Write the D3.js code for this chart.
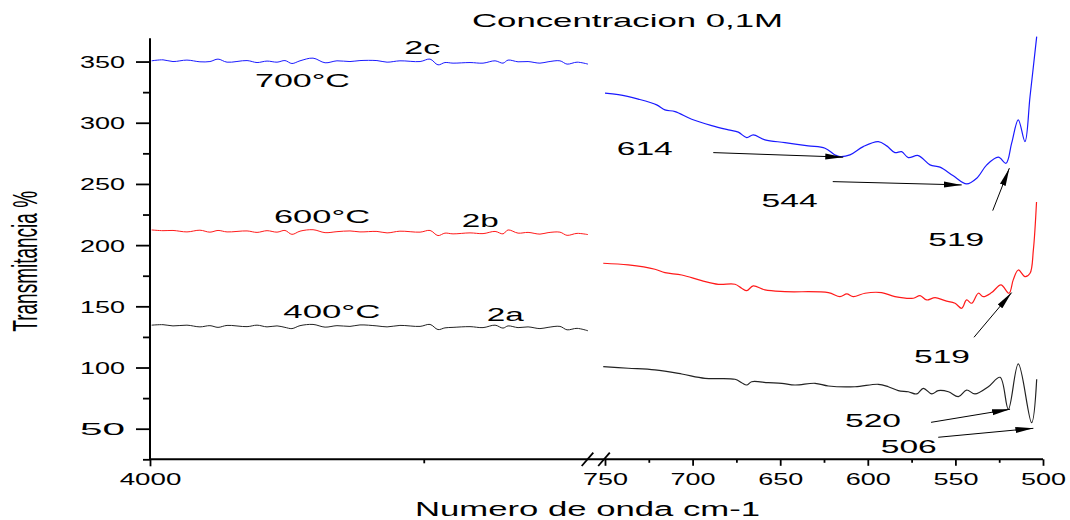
<!DOCTYPE html>
<meta charset="utf-8">
<style>
  body { margin: 0; background: #fff; }
  svg { display: block; }
  text { font-family: "Liberation Sans", Arial, sans-serif; fill: #000; }
  .axis path.domain { display: none; }
  .axis line { stroke: #000; stroke-width: 1.8; }
</style>
<body>
<div id="chart"></div>
<script src="https://cdn.jsdelivr.net/npm/d3@7"></script>
<script>

// tick values
var yTicks = [50, 100, 150, 200, 250, 300, 350];
var yMinor = [25, 75, 125, 175, 225, 275, 325];
var xLeftTicks = [4000];
var xLeftMinor = [2000];
var xRightTicks = [750, 700, 650, 600, 550, 500];
var xRightMinor = [725, 675, 625, 575, 525];

// 4000 - 800 cm-1 part (before the break)
var leftBlue = [[3988,350.6],[3905,351.4],[3832,350.0],[3730,351.2],[3635,349.8],[3562,350.0],[3503,352.0],[3437,349.5],[3291,350.8],[3218,349.2],[3145,350.4],[3072,349.5],[3014,350.8],[2963,348.4],[2904,350.6],[2809,352.8],[2721,349.0],[2634,350.6],[2539,350.0],[2466,350.8],[2342,350.8],[2268,349.5],[2174,350.6],[2027,350.0],[1954,352.0],[1896,347.3],[1845,349.2],[1786,348.7],[1662,349.2],[1567,348.7],[1479,350.6],[1421,348.7],[1384,351.2],[1311,349.8],[1238,350.0],[1151,348.7],[1092,349.8],[1005,350.6],[953,347.9],[880,349.5],[800,347.9]];
var leftRed = [[3988,212.4],[3905,211.8],[3832,212.0],[3730,210.8],[3635,212.2],[3562,210.6],[3503,212.0],[3437,210.8],[3291,211.6],[3218,210.4],[3145,211.8],[3072,210.6],[3014,212.0],[2963,208.8],[2904,211.4],[2809,212.6],[2721,210.2],[2634,211.0],[2539,211.6],[2466,210.8],[2342,211.2],[2268,210.0],[2174,211.4],[2027,210.6],[1954,212.0],[1896,207.8],[1845,209.8],[1786,209.2],[1662,210.0],[1567,209.4],[1479,211.2],[1421,209.2],[1384,212.4],[1311,209.8],[1238,210.4],[1151,209.0],[1092,210.2],[1005,210.6],[953,208.0],[880,209.6],[800,208.6]];
var leftBlack = [[3988,134.6],[3905,135.0],[3832,134.0],[3730,134.6],[3635,133.2],[3562,134.2],[3503,132.8],[3437,134.4],[3291,133.4],[3218,134.6],[3145,133.2],[3072,134.0],[3014,132.8],[2963,131.8],[2904,134.2],[2809,135.2],[2721,133.0],[2634,134.2],[2539,133.6],[2466,134.8],[2342,134.0],[2268,133.2],[2174,134.4],[2027,133.6],[1954,135.2],[1896,131.0],[1845,132.4],[1786,132.8],[1662,133.4],[1567,132.6],[1479,134.6],[1421,132.2],[1384,134.0],[1311,132.6],[1238,133.2],[1151,131.8],[1092,132.8],[1005,133.6],[953,130.8],[880,132.0],[800,130.0]];

// 750 - 500 cm-1 part (after the break)
var rightBlue = [[750,324.2],[742.4,323.0],[731,319.3],[720.5,314.6],[715.8,310.5],[710,309.1],[700.5,302.9],[689.1,297.7],[679.6,294.2],[673.9,292.3],[669.1,287.9],[665.4,290.1],[658.7,286.0],[647.3,283.8],[634,281.1],[624.4,279.2],[618.7,273.7],[615.9,272.3],[610.2,273.7],[602.6,280.5],[594,284.6],[589.2,281.1],[584.5,275.6],[580.7,276.4],[576.9,271.5],[571.2,273.2],[564.5,265.6],[558.8,263.7],[551.2,256.6],[543.6,250.0],[537.8,254.7],[532.1,265.6],[525.5,271.9],[521.1,266.9],[517.9,283.3],[514.1,302.4],[510.3,284.6],[507.4,321.4],[503.6,370.4]];
var rightRed = [[751,185.2],[736.7,183.8],[721.5,180.3],[715.8,177.5],[706.2,175.6],[694.8,171.0],[685.3,168.0],[675.8,168.0],[672,164.8],[669.1,162.8],[665.4,166.7],[658.7,163.4],[647.3,162.0],[622.5,161.2],[615.9,157.9],[612,160.1],[608.3,157.9],[601.6,160.7],[592.1,161.2],[584.5,157.9],[574,156.6],[570.2,158.7],[566.4,155.2],[561.6,157.1],[555.9,154.6],[550.2,152.5],[546.4,148.4],[543.6,155.2],[540.7,152.5],[536.9,160.7],[534.1,157.9],[529.3,161.2],[524,167.5],[519.4,160.7],[517,171.6],[514.1,179.7],[510.3,174.3],[507.4,177.0],[505.5,196.1],[503.7,235.3]];
var rightBlack = [[751,100.7],[736.7,99.4],[721.5,98.0],[706.2,94.7],[692.9,91.2],[675.8,90.4],[672,87.6],[669.1,85.7],[666.3,88.4],[656.8,87.6],[649.1,87.1],[641.6,85.7],[630.1,87.1],[622.5,84.9],[607.3,84.3],[594,86.3],[588.3,84.3],[582.6,81.1],[576.9,80.2],[572.1,78.4],[568.3,83.0],[563.5,78.4],[559.8,81.1],[554,80.2],[548.3,76.2],[543.6,81.6],[538.8,78.4],[531.2,84.3],[524.5,92.0],[519.8,65.9],[514.1,102.9],[506.5,54.9],[503.6,90.4]];

// peak labels and arrows (data coords: [x, y])
var peakLabels = ["614", "544", "519", "519", "520", "506"];
var peakTextAt = [[743.3,273.7],[660.6,231.5],[565.5,199.4],[573.6,103.5],[613.0,51.1],[592.6,29.9]];
var arrowFrom = [[688.2,275.6],[620.0,251.9],[528.7,228.2],[539.4,124.7],[563.9,55.2],[559.8,43.0]];
var arrowTo = [[614.0,271.9],[546.4,249.2],[519.2,262.9],[517.9,161.2],[518.8,65.9],[505.5,50.3]];

// curve labels on the left part
var curveLabels = ["2c", "700°C", "600°C", "2b", "400°C", "2a"];
var curveTextAt = [[2142,356.1],[3233,329.6],[3094,218.4],[1723,215.1],[3026,140.2],[1540,138.0]];

var width = 1070,
    height = 520;

var xL = d3.scaleLinear().domain([4000, 800]).range([150, 588]);
var xR = d3.scaleLinear().domain([750, 500]).range([605, 1043]);
var y = d3.scaleLinear().domain([25, 369]).range([459.3, 38.3]);

var svg = d3.select("#chart").append("svg")
    .attr("width", width)
    .attr("height", height);

svg.append("rect").attr("width", width).attr("height", height).attr("fill", "#fff");

var defs = svg.append("defs");
defs.append("marker")
    .attr("id", "head")
    .attr("markerUnits", "userSpaceOnUse")
    .attr("viewBox", "-18 -4 19 8")
    .attr("refX", 0).attr("refY", 0)
    .attr("markerWidth", 19).attr("markerHeight", 8)
    .attr("orient", "auto")
  .append("path")
    .attr("d", "M0,0L-18,-3L-18,3Z")
    .attr("fill", "#000");

function stretch(sel, w) {
  // the source picture is stretched sideways, so fit each label to its width
  sel.attr("textLength", w).attr("lengthAdjust", "spacingAndGlyphs");
}

var y0 = y(25);
var fmt = d3.format("d");

// y axis: major and minor in their own groups
var gy = svg.append("g").attr("class", "axis").attr("transform", "translate(150,0)")
    .call(d3.axisLeft(y).tickValues(yTicks).tickFormat(fmt).tickSize(14).tickPadding(11).tickSizeOuter(0));
svg.append("g").attr("class", "axis").attr("transform", "translate(150,0)")
    .call(d3.axisLeft(y).tickValues(yMinor).tickSize(7).tickFormat("").tickSizeOuter(0));
gy.selectAll("text")
    .attr("font-size", 16.5)
    .attr("dy", "0.36em")
    .call(stretch, 45);

// x axis, two pieces
var gxL = svg.append("g").attr("class", "axis").attr("transform", "translate(0," + y0 + ")")
    .call(d3.axisBottom(xL).tickValues(xLeftTicks).tickFormat(fmt).tickSize(7).tickSizeOuter(0));
svg.append("g").attr("class", "axis").attr("transform", "translate(0," + y0 + ")")
    .call(d3.axisBottom(xL).tickValues(xLeftMinor).tickSize(4).tickFormat("").tickSizeOuter(0));
var gxR = svg.append("g").attr("class", "axis").attr("transform", "translate(0," + y0 + ")")
    .call(d3.axisBottom(xR).tickValues(xRightTicks).tickFormat(fmt).tickSize(6.5).tickSizeOuter(0));
svg.append("g").attr("class", "axis").attr("transform", "translate(0," + y0 + ")")
    .call(d3.axisBottom(xR).tickValues(xRightMinor).tickSize(3.5).tickFormat("").tickSizeOuter(0));

[gxL, gxR].forEach(function(g) {
  g.selectAll("text")
      .attr("font-size", 16.5)
      .attr("y", 25.7)
      .attr("dy", null)
      .each(function() {
        var t = d3.select(this);
        stretch(t, t.text().length === 4 ? 61.7 : 45);
      });
});
svg.selectAll(".axis text").attr("font-family", null);

// axis lines
svg.append("line")
    .attr("x1", 150).attr("x2", 150)
    .attr("y1", y.range()[1]).attr("y2", y0)
    .attr("stroke", "#000").attr("stroke-width", 2);
svg.append("line")
    .attr("x1", xL.range()[0]).attr("x2", xR.range()[1])
    .attr("y1", y0).attr("y2", y0)
    .attr("stroke", "#000").attr("stroke-width", 2);

// break marks
[xL.range()[1] - 0.5, xR.range()[0] - 1].forEach(function(cx) {
  svg.append("line")
      .attr("x1", cx - 5.8).attr("y1", y0 + 6.7)
      .attr("x2", cx + 5.8).attr("y2", y0 - 6.7)
      .attr("stroke", "#000").attr("stroke-width", 1.8);
});

// spectra
var lineL = d3.line().x(function(d) { return xL(d[0]); }).y(function(d) { return y(d[1]); }).curve(d3.curveCatmullRom);
var lineR = d3.line().x(function(d) { return xR(d[0]); }).y(function(d) { return y(d[1]); }).curve(d3.curveCatmullRom);

var series = [
  {l: leftBlue, r: rightBlue, c: "#1a1aff"},
  {l: leftRed, r: rightRed, c: "#ff1a1a"},
  {l: leftBlack, r: rightBlack, c: "#222"}
];
series.forEach(function(s) {
  svg.append("path").datum(s.l).attr("d", lineL)
      .attr("fill", "none").attr("stroke", s.c).attr("stroke-width", 1);
  svg.append("path").datum(s.r).attr("d", lineR)
      .attr("fill", "none").attr("stroke", s.c).attr("stroke-width", 1.2);
});

// arrows
arrowFrom.forEach(function(a, i) {
  svg.append("line")
      .attr("x1", xR(a[0])).attr("y1", y(a[1]))
      .attr("x2", xR(arrowTo[i][0])).attr("y2", y(arrowTo[i][1]))
      .attr("stroke", "#000").attr("stroke-width", 1)
      .attr("marker-end", "url(#head)");
});

// peak numbers
peakLabels.forEach(function(t, i) {
  svg.append("text")
      .attr("x", xR(peakTextAt[i][0])).attr("y", y(peakTextAt[i][1]))
      .attr("font-size", 19)
      .text(t)
      .call(stretch, 56);
});

// curve names
var curveWidths = [36, 95, 96, 37, 97, 37];
curveLabels.forEach(function(t, i) {
  svg.append("text")
      .attr("x", xL(curveTextAt[i][0])).attr("y", y(curveTextAt[i][1]))
      .attr("font-size", 19)
      .text(t)
      .call(stretch, curveWidths[i]);
});

// titles
svg.append("text")
    .attr("x", 472).attr("y", 26.7)
    .attr("font-size", 19)
    .text("Concentracion 0,1M")
    .call(stretch, 311);

svg.append("text")
    .attr("x", 415).attr("y", 516)
    .attr("font-size", 20)
    .text("Numero de onda cm-1")
    .call(stretch, 345);

svg.append("text")
    .attr("transform", "translate(36.5,331.7) scale(1.85,1) rotate(-90)")
    .attr("font-size", 19)
    .text("Transmitancia %");

</script>
</body>
